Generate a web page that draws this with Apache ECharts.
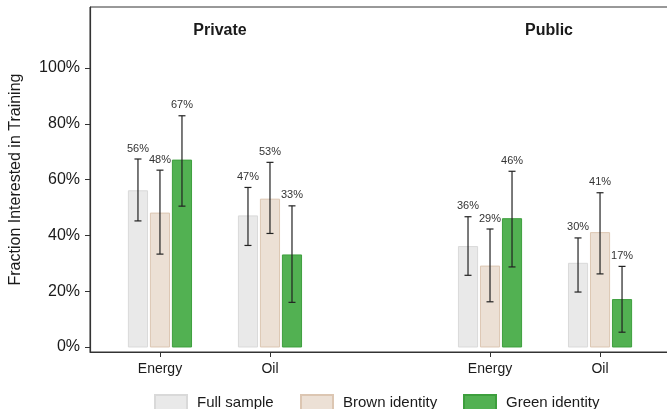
<!DOCTYPE html>
<html>
<head>
<meta charset="utf-8">
<script src="https://cdn.jsdelivr.net/npm/echarts@6/dist/echarts.min.js"></script>
<style>
  html, body { margin: 0; padding: 0; background: #fff; }
  #chart { width: 667px; height: 409px; }
</style>
</head>
<body>
<div id="chart"></div>
<script>
// Fraction interested in training, by sector (Private / Public) and identity group
const categories = ['Energy', 'Oil', 'Energy', 'Oil'];
const positions = [0, 1, 3, 4];          // slot 2 is the gap between the two panels
const panels = ['Private', 'Public'];

const fullSample = [56, 47, 36, 30];
const fullLow    = [45.2, 36.4, 25.7, 19.7];
const fullHigh   = [67.4, 57.2, 46.7, 39.1];

const brownIdentity = [48, 53, 29, 41];
const brownLow      = [33.3, 40.7, 16.2, 26.2];
const brownHigh     = [63.4, 66.2, 42.3, 55.3];

const greenIdentity = [67, 33, 46, 17];
const greenLow      = [50.5, 16.0, 28.7, 5.3];
const greenHigh     = [82.9, 50.6, 63.0, 28.9];

const yTicks = [0, 20, 40, 60, 80, 100];

const groups = [
  { name: 'Full sample',    values: fullSample,    low: fullLow,  high: fullHigh,  offset: -0.2,
    color: '#e9e9e9', border: '#d9d9d9' },
  { name: 'Brown identity', values: brownIdentity, low: brownLow, high: brownHigh, offset: 0,
    color: '#ece0d5', border: '#dcc6b2' },
  { name: 'Green identity', values: greenIdentity, low: greenLow, high: greenHigh, offset: 0.2,
    color: '#52b152', border: '#3d9f3d' }
];

const BAR_W = 0.174;   // bar width in x-axis units
const INK = '#1a1a1a';
const FONT = 'Liberation Sans, Arial, Helvetica, sans-serif';

function barSeries(g) {
  const data = positions.map((p, i) => [p + g.offset, g.values[i] / 100]);
  return {
    type: 'custom',
    name: g.name,
    itemStyle: { color: g.color, borderColor: g.border, borderWidth: 1 },
    data: data,
    encode: { x: 0, y: 1 },
    z: 2,
    renderItem: function (params, api) {
      const x = api.value(0), y = api.value(1);
      const p0 = api.coord([x - BAR_W / 2, 0]);
      const p1 = api.coord([x + BAR_W / 2, y]);
      return {
        type: 'rect',
        shape: { x: p0[0], y: p1[1], width: p1[0] - p0[0], height: p0[1] - p1[1] },
        style: { fill: g.color, stroke: g.border, lineWidth: 1 }
      };
    }
  };
}

function errorSeries(g) {
  const data = positions.map((p, i) => [p + g.offset, g.low[i] / 100, g.high[i] / 100, g.values[i]]);
  return {
    type: 'custom',
    name: g.name + ' CI',
    data: data,
    encode: { x: 0, y: [1, 2] },
    z: 5,
    silent: true,
    renderItem: function (params, api) {
      const x = api.value(0);
      const lo = api.coord([x, api.value(1)]);
      const hi = api.coord([x, api.value(2)]);
      const cap = 3.5;
      const line = { stroke: '#222', lineWidth: 1.2 };
      return {
        type: 'group',
        children: [
          { type: 'line', shape: { x1: hi[0], y1: hi[1], x2: lo[0], y2: lo[1] }, style: line },
          { type: 'line', shape: { x1: hi[0] - cap, y1: hi[1], x2: hi[0] + cap, y2: hi[1] }, style: line },
          { type: 'line', shape: { x1: lo[0] - cap, y1: lo[1], x2: lo[0] + cap, y2: lo[1] }, style: line },
          { type: 'text', style: {
              text: api.value(3) + '%', x: hi[0], y: hi[1] - 5,
              align: 'center', verticalAlign: 'bottom',
              font: '11px ' + FONT, fill: '#333'
          } }
        ]
      };
    }
  };
}

const legendLeft = [154, 300, 463];

const option = {
  animation: false,
  backgroundColor: '#fff',
  textStyle: { fontFamily: FONT },
  title: [
    { text: panels[0], left: 215, top: 18, textAlign: 'center',
      textStyle: { fontSize: 16, fontWeight: 'bold', color: INK, fontFamily: FONT } },
    { text: panels[1], left: 544, top: 18, textAlign: 'center',
      textStyle: { fontSize: 16, fontWeight: 'bold', color: INK, fontFamily: FONT } }
  ],
  legend: groups.map((g, i) => ({
    data: [g.name],
    left: legendLeft[i],
    top: 394,
    padding: 0,
    icon: 'rect',
    itemWidth: 32,
    itemHeight: 15,
    selectedMode: false,
    textStyle: { fontSize: 15, color: INK, padding: [0, 0, 0, 5], fontFamily: FONT }
  })),
  grid: {
    left: 90, top: 7, width: 580, height: 345,
    outerBoundsMode: 'none',
    containLabel: false,
    show: true, borderColor: '#333', borderWidth: 1, backgroundColor: 'transparent'
  },
  xAxis: {
    type: 'value',
    min: -0.636, max: 4.636,
    splitLine: { show: false },
    axisLine: { onZero: false, lineStyle: { color: '#333', width: 1.2 } },
    axisTick: { show: true, customValues: positions, length: 5, lineStyle: { color: '#333' } },
    axisLabel: {
      customValues: positions,
      margin: 10,
      fontSize: 14, color: INK, fontFamily: FONT,
      formatter: function (v) { return categories[positions.indexOf(Math.round(v))] || ''; }
    }
  },
  yAxis: {
    type: 'value',
    min: -0.018, max: 1.219,
    name: 'Fraction Interested in Training',
    nameLocation: 'middle',
    nameGap: 66,
    nameTextStyle: { fontSize: 16, color: INK, fontFamily: FONT },
    splitLine: { show: false },
    axisLine: { show: true, onZero: false, lineStyle: { color: '#333', width: 1.2 } },
    axisTick: { show: true, customValues: yTicks.map(v => v / 100), length: 5, lineStyle: { color: '#333' } },
    axisLabel: {
      customValues: yTicks.map(v => v / 100),
      margin: 10,
      fontSize: 16, color: INK, fontFamily: FONT,
      formatter: function (v) { return Math.round(v * 100) + '%'; }
    }
  },
  series: groups.map(barSeries).concat(groups.map(errorSeries))
};

const chart = echarts.init(document.getElementById('chart'), null, { renderer: 'canvas' });
chart.setOption(option);
</script>
</body>
</html>
